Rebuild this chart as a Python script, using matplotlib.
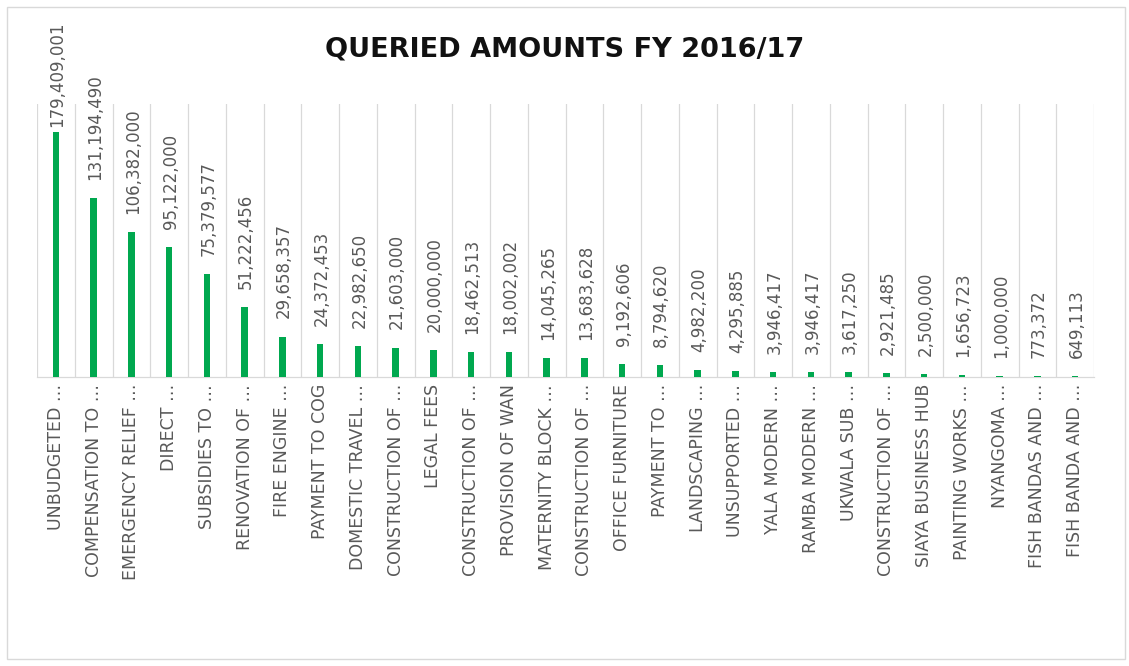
import matplotlib
matplotlib.use("Agg")
import matplotlib.pyplot as plt
from matplotlib.patches import Rectangle

categories = [
    "UNBUDGETED …", "COMPENSATION TO …", "EMERGENCY RELIEF …", "DIRECT …",
    "SUBSIDIES TO …", "RENOVATION OF …", "FIRE ENGINE …", "PAYMENT TO COG",
    "DOMESTIC TRAVEL …", "CONSTRUCTION OF …", "LEGAL FEES", "CONSTRUCTION OF …",
    "PROVISION OF WAN", "MATERNITY BLOCK …", "CONSTRUCTION OF …", "OFFICE FURNITURE",
    "PAYMENT TO …", "LANDSCAPING …", "UNSUPPORTED …", "YALA MODERN …",
    "RAMBA MODERN …", "UKWALA SUB …", "CONSTRUCTION OF …", "SIAYA BUSINESS HUB",
    "PAINTING WORKS …", "NYANGOMA …", "FISH BANDAS AND …", "FISH BANDA AND …",
]
amounts = [
    179409001, 131194490, 106382000, 95122000, 75379577, 51222456, 29658357,
    24372453, 22982650, 21603000, 20000000, 18462513, 18002002, 14045265,
    13683628, 9192606, 8794620, 4982200, 4295885, 3946417, 3946417, 3617250,
    2921485, 2500000, 1656723, 1000000, 773372, 649113,
]
title = "QUERIED AMOUNTS FY 2016/17"

W, H = 1129, 666
fig = plt.figure(figsize=(W / 100, H / 100), dpi=100)
fig.patch.set_facecolor("white")

# chart border
fig.patches.append(Rectangle((7 / W, 1 - 659 / H), (1125 - 7) / W, (659 - 7) / H,
                             transform=fig.transFigure, fill=False,
                             edgecolor="#D9D9D9", linewidth=1.0))

ax = fig.add_axes([37 / W, 1 - 377 / H, 1057 / W, (377 - 104) / H])
x = list(range(len(categories)))
ax.bar(x, amounts, width=0.17, color="#00A84F", zorder=3)

ax.set_xlim(-0.5, len(categories) - 0.5)
ax.set_ylim(0, 200e6)
ax.set_yticks([])

ax.set_xticks(x)
ax.set_xticklabels(categories, rotation=90, ha="center", va="top",
                   fontsize=12.5, color="#595959", family="DejaVu Sans")
ax.tick_params(axis="x", length=0, pad=5)

ax.set_xticks([i - 0.5 for i in range(len(categories) + 1)], minor=True)
ax.tick_params(axis="x", which="minor", length=0)
ax.grid(axis="x", which="minor", color="#D9D9D9", linewidth=0.9, zorder=0)
ax.grid(axis="x", which="major", visible=False)

for s in ["top", "left", "right"]:
    ax.spines[s].set_visible(False)
ax.spines["bottom"].set_color("#D9D9D9")
ax.spines["bottom"].set_linewidth(0.9)

for i, v in enumerate(amounts):
    off = 3.6 if i == 0 else 13
    ax.annotate(f"{v:,}", (i, v), xytext=(1, off), textcoords="offset points",
                rotation=90, ha="center", va="bottom", fontsize=12,
                color="#595959", annotation_clip=False)

fig.text(0.5, 1 - 50 / H, title, ha="center", va="center",
         fontsize=19.5, fontweight="bold", color="#111111")

fig.savefig("out.png", dpi=100, facecolor="white")
